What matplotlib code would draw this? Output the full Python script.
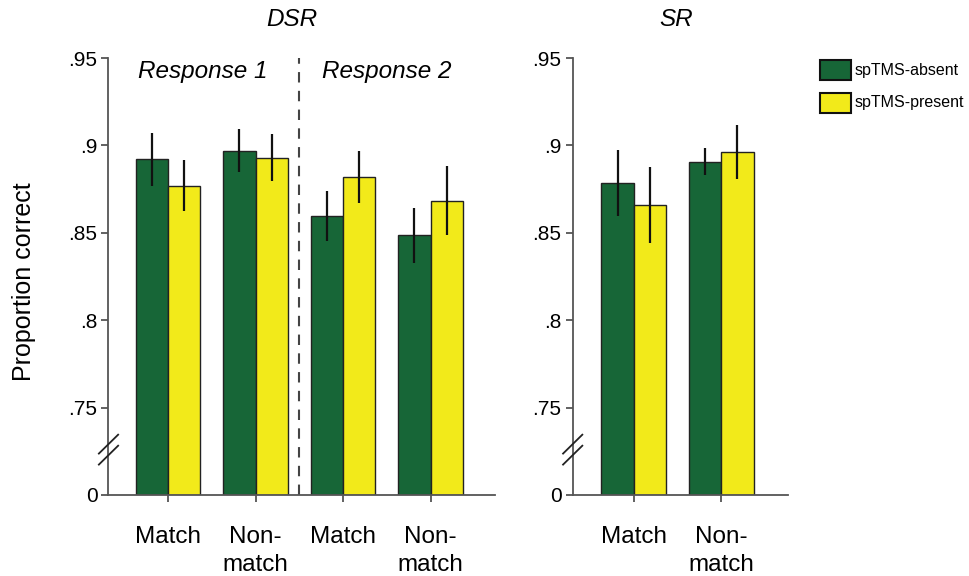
import matplotlib
matplotlib.use("Agg")
import matplotlib.pyplot as plt
from matplotlib.patches import Rectangle
import numpy as np

plt.rcParams['font.family'] = ['Liberation Sans', 'DejaVu Sans']

# ---------------- data ----------------
dsr_categories = ["Match", "Non-\nmatch", "Match", "Non-\nmatch"]
dsr_absent = [0.892, 0.897, 0.8595, 0.8487]
dsr_absent_err = [0.015, 0.0125, 0.0143, 0.0157]
dsr_present = [0.877, 0.893, 0.882, 0.8683]
dsr_present_err = [0.0145, 0.0135, 0.015, 0.0197]

sr_categories = ["Match", "Non-\nmatch"]
sr_absent = [0.8784, 0.8906]
sr_absent_err = [0.019, 0.0078]
sr_present = [0.8659, 0.8963]
sr_present_err = [0.022, 0.0154]

series_labels = ["spTMS-absent", "spTMS-present"]
ytick_values = [0.70, 0.75, 0.80, 0.85, 0.90, 0.95]
ytick_labels = ["0", ".75", ".8", ".85", ".9", ".95"]
panel_titles = ["DSR", "SR"]
response_labels = ["Response 1", "Response 2"]

# ---------------- style ----------------
GREEN = "#176637"
YELLOW = "#f2ea1a"
EDGE = "#222222"
BASE = 0.70      # axis-break: 0 is drawn at this level
W = 0.37

W_PX, H_PX = 970, 576
fig = plt.figure(figsize=(W_PX / 100, H_PX / 100), dpi=100)


def fx(px):
    return px / W_PX


def fy(py):
    return 1 - py / H_PX


axL = fig.add_axes([fx(108.5), fy(495), fx(495) - fx(108.5), fy(58) - fy(495)])
axR = fig.add_axes([fx(572.7), fy(495), fx(788) - fx(572.7), fy(58) - fy(495)])


def draw_panel(ax, cats, a, ae, p, pe, xlim):
    x = np.arange(len(cats))
    a = np.asarray(a)
    p = np.asarray(p)
    ax.bar(x - W / 2, a - BASE, bottom=BASE, width=W, color=GREEN,
           edgecolor=EDGE, linewidth=1.0, zorder=2)
    ax.bar(x + W / 2, p - BASE, bottom=BASE, width=W, color=YELLOW,
           edgecolor=EDGE, linewidth=1.0, zorder=2)
    ax.errorbar(x - W / 2, a, yerr=ae, fmt='none', ecolor='#111111',
                elinewidth=1.6, capsize=0, zorder=3)
    ax.errorbar(x + W / 2, p, yerr=pe, fmt='none', ecolor='#111111',
                elinewidth=1.6, capsize=0, zorder=3)
    ax.set_xlim(*xlim)
    ax.set_ylim(BASE, 0.95)
    ax.set_xticks(x)
    ax.set_xticklabels(cats, fontsize=17.5, linespacing=1.4)
    ax.set_yticks(ytick_values)
    ax.set_yticklabels(ytick_labels, fontsize=15)
    for s in ["top", "right"]:
        ax.spines[s].set_visible(False)
    for s in ["left", "bottom"]:
        ax.spines[s].set_color("#555555")
        ax.spines[s].set_linewidth(1.3)
    ax.tick_params(axis='y', length=5, width=1.3, color="#555555", pad=3)
    ax.tick_params(axis='x', length=5, width=1.3, color="#555555", pad=17)
    # axis-break marks on the left spine
    for dy in (0.0, 0.0063):
        yb = 0.7228 + dy
        ax.plot([xlim[0] - 0.11, xlim[0] + 0.11],
                [yb - 0.0054, yb + 0.0054], color="#222222", lw=1.3,
                clip_on=False, zorder=5)


draw_panel(axL, dsr_categories, dsr_absent, dsr_absent_err,
           dsr_present, dsr_present_err, (-0.68, 3.737))
draw_panel(axR, sr_categories, sr_absent, sr_absent_err,
           sr_present, sr_present_err, (-0.697, 1.763))

# dashed separator between Response 1 and Response 2
axL.axvline(1.5, color="#444444", lw=1.5, ls=(0, (5, 4)), zorder=1)

axL.text(0.4, 0.942, response_labels[0], ha='center', va='center',
         fontsize=17.5, style='italic')
axL.text(2.5, 0.942, response_labels[1], ha='center', va='center',
         fontsize=17.5, style='italic')

fig.text(fx(24), fy(281.5), "Proportion correct", rotation=90,
         ha='center', va='center', fontsize=18)

fig.text(fx(292), fy(20), panel_titles[0], ha='center', va='center',
         fontsize=17.5, style='italic')
fig.text(fx(676), fy(20), panel_titles[1], ha='center', va='center',
         fontsize=17.5, style='italic')

# legend (drawn manually)
for i, (lab, col) in enumerate(zip(series_labels, [GREEN, YELLOW])):
    y0 = 60 + i * 33
    fig.patches.append(Rectangle((fx(820), fy(y0 + 20)), fx(851) - fx(820),
                                 fy(y0) - fy(y0 + 20), transform=fig.transFigure,
                                 facecolor=col, edgecolor="#111111", lw=1.5))
    fig.text(fx(855), fy(y0 + 10), lab, ha='left', va='center', fontsize=11.5)

fig.savefig("out.png", dpi=100)
